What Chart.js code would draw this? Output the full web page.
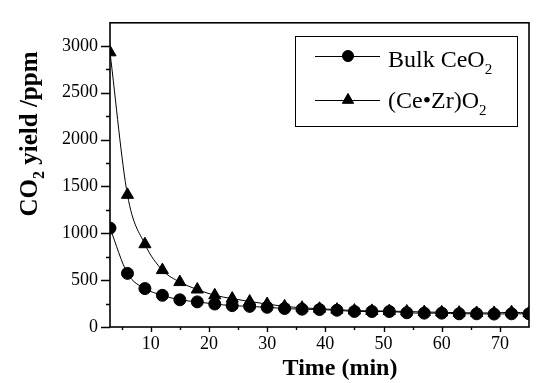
<!DOCTYPE html>
<html>
<head>
<meta charset="utf-8">
<script src="https://cdn.jsdelivr.net/npm/chart.js@4/dist/chart.umd.min.js"></script>
<style>
  html, body { margin: 0; padding: 0; background: #fff; }
  #wrap { position: relative; width: 537px; height: 383px; }
</style>
</head>
<body>
<div id="wrap"><canvas id="co2Chart"></canvas></div>
<script>
// data
const timeMin = [3, 6, 9, 12, 15, 18, 21, 24, 27, 30, 33, 36, 39, 42, 45, 48, 51, 54, 57, 60, 63, 66, 69, 72, 75];
const bulkCeO2 = [1055, 572, 410, 338, 290, 268, 245, 228, 220, 210, 197, 190, 186, 179, 166, 165, 165, 152, 148, 148, 141, 141, 138, 141, 141];
const ceZrO2 = [2930, 1410, 883, 607, 479, 400, 338, 303, 272, 245, 220, 205, 195, 185, 175, 172, 170, 165, 160, 157, 153, 150, 150, 158, 148];
const xTickLabels = [10, 20, 30, 40, 50, 60, 70];
const yTickLabels = [0, 500, 1000, 1500, 2000, 2500, 3000];

const SERIF = "Liberation Serif";
Chart.defaults.font.family = SERIF;
Chart.defaults.color = '#000';

// draws text made of [string, isSubscript] pieces, left aligned at x
function drawParts(ctx, parts, x, y, size, weight) {
    let cx = x;
    parts.forEach(([txt, sub]) => {
        const fs = sub ? Math.round(size * 0.62) : size;
        ctx.font = `${weight} ${fs}px "${SERIF}"`;
        ctx.fillText(txt, cx, sub ? y + size * 0.28 : y);
        cx += ctx.measureText(txt).width;
    });
    return cx - x;
}
function partsWidth(ctx, parts, size, weight) {
    let w = 0;
    parts.forEach(([txt, sub]) => {
        const fs = sub ? Math.round(size * 0.62) : size;
        ctx.font = `${weight} ${fs}px "${SERIF}"`;
        w += ctx.measureText(txt).width;
    });
    return w;
}

const decorPlugin = {
    id: 'decor',
    afterDraw(chart) {
        const { ctx, chartArea: a, scales: { x, y } } = chart;
        ctx.save();
        ctx.strokeStyle = '#000';
        ctx.fillStyle = '#000';

        // frame
        ctx.lineWidth = 1.6;
        ctx.strokeRect(a.left, a.top, a.right - a.left, a.bottom - a.top);

        // ticks (major + minor)
        ctx.lineWidth = 1.4;
        ctx.beginPath();
        for (let v = 0; v <= 3000; v += 250) {
            const py = Math.round(y.getPixelForValue(v)) + 0.5;
            const len = v % 500 === 0 ? 9 : 4;
            ctx.moveTo(a.left - len, py);
            ctx.lineTo(a.left, py);
        }
        for (let v = 5; v <= 70; v += 5) {
            const px = Math.round(x.getPixelForValue(v)) + 0.5;
            const len = v % 10 === 0 ? 5 : 3;
            ctx.moveTo(px, a.bottom);
            ctx.lineTo(px, a.bottom + len);
        }
        ctx.stroke();

        // legend box
        const lx = 295, ly = 36, lw = 222, lh = 90;
        ctx.lineWidth = 1;
        ctx.strokeRect(lx + 0.5, ly + 0.5, lw, lh);
        const rows = [
            { y: 56, base: 67, style: 'circle', parts: [['Bulk CeO', false], ['2', true]] },
            { y: 100, base: 108, style: 'triangle', parts: [['(Ce\u2022Zr)O', false], ['2', true]] }
        ];
        rows.forEach(r => {
            ctx.lineWidth = 1;
            ctx.beginPath();
            ctx.moveTo(315, r.y + 0.5);
            ctx.lineTo(380, r.y + 0.5);
            ctx.stroke();
            Chart.helpers.drawPoint(ctx, { pointStyle: r.style, radius: r.style === 'circle' ? 5.5 : 6.5, rotation: 0, borderWidth: 1 }, 348, r.y);
            ctx.fill();
            ctx.textBaseline = 'alphabetic';
            ctx.textAlign = 'left';
            drawParts(ctx, r.parts, 388, r.base, 24, 'normal');
        });

        // x title
        ctx.font = `bold 24px "${SERIF}"`;
        ctx.textAlign = 'center';
        ctx.textBaseline = 'alphabetic';
        ctx.fillText('Time (min)', 340, 375);

        // y title (rotated, with subscript)
        const yParts = [['CO', false], ['2', true], [' yield /ppm', false]];
        ctx.textAlign = 'left';
        ctx.translate(37, 134);
        ctx.rotate(-Math.PI / 2);
        const w = partsWidth(ctx, yParts, 25, 'bold');
        drawParts(ctx, yParts, -w / 2, 0, 25, 'bold');
        ctx.restore();
    }
};

const ctx = document.getElementById('co2Chart').getContext('2d');
new Chart(ctx, {
    type: 'line',
    data: {
        datasets: [
            {
                label: 'Bulk CeO2',
                data: timeMin.map((t, i) => ({ x: t, y: bulkCeO2[i] })),
                borderColor: '#000', backgroundColor: '#000', borderWidth: 1,
                pointStyle: 'circle', pointRadius: 6, cubicInterpolationMode: 'monotone'
            },
            {
                label: '(Ce•Zr)O2',
                data: timeMin.map((t, i) => ({ x: t, y: ceZrO2[i] })),
                borderColor: '#000', backgroundColor: '#000', borderWidth: 1,
                pointStyle: 'triangle', pointRadius: 7, cubicInterpolationMode: 'monotone'
            }
        ]
    },
    options: {
        responsive: true,
        maintainAspectRatio: false,
        animation: false,
        layout: { padding: { top: 8, right: 5, left: 0, bottom: 0 } },
        plugins: { legend: { display: false }, tooltip: { enabled: false } },
        scales: {
            x: {
                type: 'linear', min: 3, max: 75,
                grid: { display: false, drawTicks: false }, border: { display: false },
                afterBuildTicks: s => { s.ticks = xTickLabels.map(v => ({ value: v })); },
                afterFit: s => { s.height = 56; },
                ticks: { color: '#000', padding: 6, font: { family: SERIF, size: 18 }, callback: v => String(v) }
            },
            y: {
                min: 0, max: 3245,
                grid: { display: false, drawTicks: false }, border: { display: false },
                afterBuildTicks: s => { s.ticks = yTickLabels.map(v => ({ value: v })); },
                afterFit: s => { s.width = 110; },
                ticks: { color: '#000', padding: 12, font: { family: SERIF, size: 18 }, callback: v => String(v) }
            }
        }
    },
    plugins: [decorPlugin]
});
</script>
</body>
</html>
